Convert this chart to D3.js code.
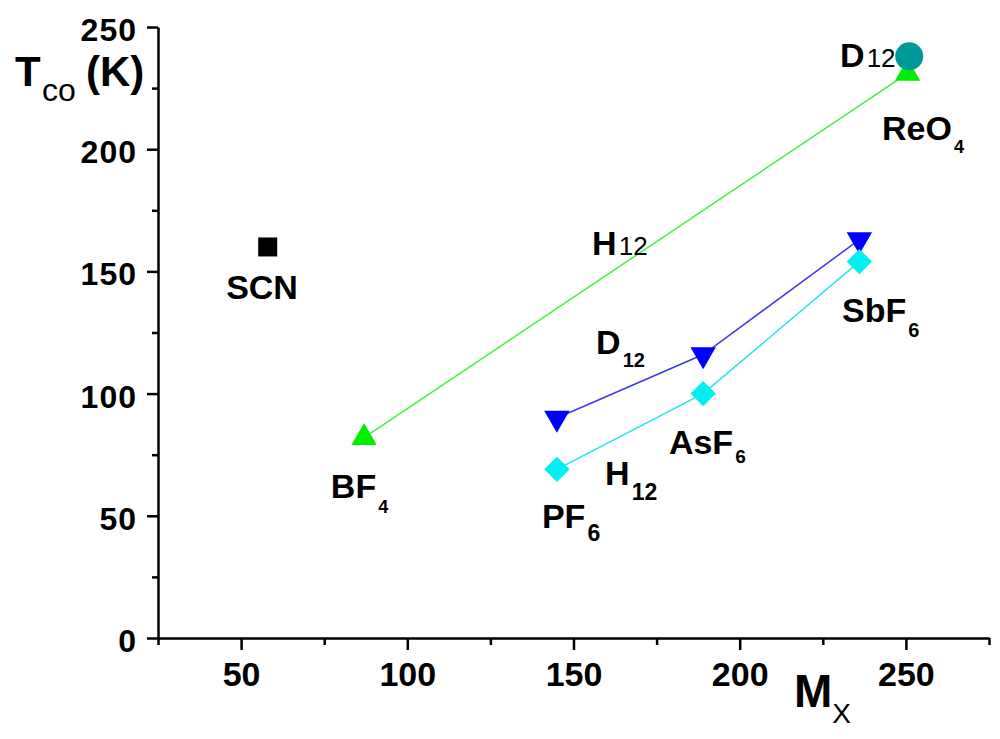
<!DOCTYPE html>
<html lang="en">
<head>
    <meta charset="UTF-8">
    <title>Tco vs Mx</title>
    <script src="https://d3js.org/d3.v7.min.js"></script>
    <style>
        body { margin: 0; background: #fff; }
        text { font-family: "Liberation Sans", Arial, sans-serif; }
    </style>
</head>
<body>
    <svg id="chart" width="1000" height="739"></svg>

    <script>
        // Values (Mx on x, Tco in K on y)
        const scnX = [58];
        const scnY = [160];

        const greenX = [87, 250.5];      // BF4 -> ReO4
        const greenY = [82, 231];

        const d12X = [145, 189, 236];    // PF6, AsF6, SbF6 (deuterated)
        const d12Y = [90, 116, 163];

        const h12X = [145, 189, 236];    // PF6, AsF6, SbF6 (hydrogenated)
        const h12Y = [69, 100, 154];

        const reo4D12X = [251];
        const reo4D12Y = [238];

        const xTickValues = [50, 100, 150, 200, 250];
        const yTickValues = [0, 50, 100, 150, 200, 250];

        // Text labels, anchored at data coordinates (left edge, baseline)
        const labels = [
            { main: 'SCN', sub: '', x: 45.5, y: 138.7 },
            { main: 'BF', sub: '4', x: 77.0, y: 57.3, subSize: 18, shift: 15 },
            { main: 'PF', sub: '6', x: 140.5, y: 45.0, subSize: 23, shift: 13 },
            { main: 'H', sub: '12', x: 159.5, y: 62.6, subSize: 23, shift: 15 },
            { main: 'D', sub: '12', x: 156.8, y: 116.2, subSize: 20, shift: 13 },
            { main: 'AsF', sub: '6', x: 178.7, y: 75.3, subSize: 19, shift: 9 },
            { main: 'SbF', sub: '6', x: 230.8, y: 129.3, subSize: 20, shift: 15 },
            { main: 'ReO', sub: '4', x: 242.8, y: 203.8, subSize: 18, shift: 13 },
            { main: 'D', sub: '12', x: 230.2, y: 233.6, subSize: 26, shift: 0 },
            { main: 'H', sub: '12', x: 155.6, y: 156.7, subSize: 26, shift: 0 }
        ];

        const svg = d3.select('#chart');
        const margin = { top: 27, right: 11, bottom: 101, left: 158 };
        const width = +svg.attr('width');
        const height = +svg.attr('height');

        const x = d3.scaleLinear()
            .domain([25, 275])
            .range([margin.left, width - margin.right]);

        const y = d3.scaleLinear()
            .domain([0, 250])
            .range([height - margin.bottom, margin.top]);

        const zip = (xs, ys) => xs.map((v, i) => ({ x: v, y: ys[i] }));

        const line = d3.line()
            .x(d => x(d.x))
            .y(d => y(d.y));

        // Connecting lines
        const lines = [
            { data: zip(greenX, greenY), color: '#44ee44', w: 1.5 },
            { data: zip(d12X, d12Y), color: '#3a3af0', w: 1.5 },
            { data: zip(h12X, h12Y), color: '#22e4ee', w: 1.5 }
        ];

        svg.selectAll('.series-line')
            .data(lines)
            .enter().append('path')
            .attr('class', 'series-line')
            .attr('fill', 'none')
            .attr('stroke', d => d.color)
            .attr('stroke-width', d => d.w)
            .attr('d', d => line(d.data));

        // Markers
        function drawMarkers(data, type, size, color, rotate) {
            svg.append('g')
                .selectAll('path')
                .data(data)
                .enter().append('path')
                .attr('d', d3.symbol().type(type).size(size))
                .attr('fill', color)
                .attr('transform', d => `translate(${x(d.x)},${y(d.y)}) rotate(${rotate})`);
        }

        drawMarkers(zip(scnX, scnY), d3.symbolSquare, 361, '#000000', 0);
        drawMarkers(zip(greenX, greenY), d3.symbolTriangle, 280, '#00ee00', 0);
        drawMarkers(zip(d12X, d12Y), d3.symbolTriangle, 280, '#0000ff', 180);
        drawMarkers(zip(h12X, h12Y), d3.symbolSquare, 320, '#00f0f0', 45);

        svg.append('g')
            .selectAll('circle')
            .data(zip(reo4D12X, reo4D12Y))
            .enter().append('circle')
            .attr('cx', d => x(d.x))
            .attr('cy', d => y(d.y))
            .attr('r', 14)
            .attr('fill', '#009999');

        // Axes
        const xAxis = svg.append('g')
            .attr('transform', `translate(0,${height - margin.bottom})`)
            .call(d3.axisBottom(x).tickValues(xTickValues).tickSize(12).tickSizeOuter(0).tickPadding(12));

        // Minor ticks on x
        svg.append('g')
            .attr('transform', `translate(0,${height - margin.bottom})`)
            .call(d3.axisBottom(x).tickValues(d3.range(25, 276, 50)).tickSize(7).tickSizeOuter(0).tickFormat(''))
            .select('.domain').remove();

        const yAxis = svg.append('g')
            .attr('transform', `translate(${margin.left},0)`)
            .call(d3.axisLeft(y).tickValues(yTickValues).tickSize(11).tickSizeOuter(0).tickPadding(10));

        // Minor ticks on y
        svg.append('g')
            .attr('transform', `translate(${margin.left},0)`)
            .call(d3.axisLeft(y).tickValues(d3.range(25, 250, 50)).tickSize(6).tickSizeOuter(0).tickFormat(''))
            .select('.domain').remove();

        svg.selectAll('.domain, .tick line')
            .attr('stroke', '#000')
            .attr('stroke-width', 2.5);

        xAxis.selectAll('.tick text')
            .attr('fill', '#000')
            .style('font-size', '34px')
            .style('font-weight', 'bold');

        yAxis.selectAll('.tick text')
            .attr('fill', '#000')
            .attr('dy', '0.42em')
            .style('font-size', '32px')
            .style('font-weight', 'bold')
            .style('letter-spacing', '1px');

        // Axis titles
        const yTitle = svg.append('text')
            .attr('y', 86)
            .style('font-size', '42px')
            .style('font-weight', 'bold');
        yTitle.append('tspan').attr('x', 15).text('T');
        yTitle.append('tspan').attr('x', 42).attr('y', 101)
            .style('font-size', '32px').style('font-weight', 'normal').text('co');
        yTitle.append('tspan').attr('x', 86).attr('y', 86).text('(K)');

        const xTitle = svg.append('text')
            .attr('x', 794)
            .attr('y', 707)
            .style('font-size', '46px')
            .style('font-weight', 'bold');
        xTitle.append('tspan').text('M');
        xTitle.append('tspan').attr('dy', 16).style('font-size', '28px').style('font-weight', 'normal').text('X');

        // Point labels
        const labelText = svg.selectAll('.pt-label')
            .data(labels)
            .enter().append('text')
            .attr('class', 'pt-label')
            .attr('x', d => x(d.x))
            .attr('y', d => y(d.y))
            .style('font-size', '34px')
            .style('font-weight', 'bold');

        labelText.append('tspan').text(d => d.main);
        labelText.filter(d => d.sub)
            .append('tspan')
            .attr('dx', 2)
            .attr('dy', d => d.shift)
            .style('font-size', d => d.subSize + 'px')
            .style('font-weight', d => d.shift === 0 ? 'normal' : 'bold')
            .text(d => d.sub);
    </script>
</body>
</html>
